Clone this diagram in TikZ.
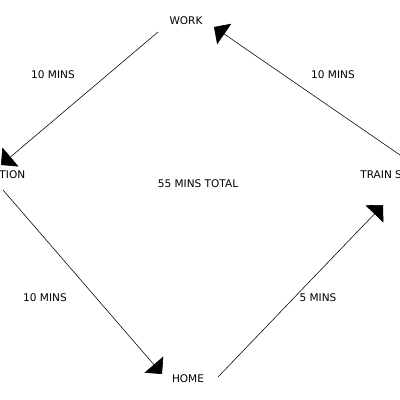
\documentclass[tikz,border=0pt]{standalone}
\usepackage{fontspec}
\setmainfont{DejaVu Sans}
\usetikzlibrary{arrows.meta,positioning}

\begin{document}
\begin{tikzpicture}[
    x=0.25mm, y=-0.25mm,
    place/.style={font=\fontsize{7.5}{9}\selectfont, inner sep=0pt},
    trip/.style={font=\fontsize{7.5}{9}\selectfont, inner sep=0pt},
    arrow/.style={thin, -{Triangle[width=6.2mm,length=3.1mm]}}
]
\useasboundingbox (0,0) rectangle (400,400);
\clip (0,0) rectangle (400,400);

% Places
\node[place] (work) at (186,21) {WORK};
\node[place] (station) at (3,175) {STATION};
\node[place] (home) at (188,379) {HOME};
\node[place] (train) at (400,175) {TRAIN STATION};

% Total
\node[trip] (total) at (198,184) {55 MINS TOTAL};

% Times
\node[trip] (t1) at (53,75) {10 MINS};
\node[trip] (t2) at (45,298) {10 MINS};
\node[trip] (t3) at (318,298) {5 MINS};
\node[trip] (t4) at (333,75) {10 MINS};

% Arrows
\draw[arrow] ([shift={(-28,11)}]work.center) -- ([shift={(-2,-10)}]station.center);
\draw[arrow] ([shift={(0,15)}]station.center) -- ([shift={(-26,-5)}]home.center);
\draw[arrow] ([shift={(30,-2)}]home.center) -- ([shift={(-17,30)}]train.center);
\draw[arrow] ([shift={(0,-20)}]train.center) -- ([shift={(28,6)}]work.center);

\end{tikzpicture}
\end{document}
